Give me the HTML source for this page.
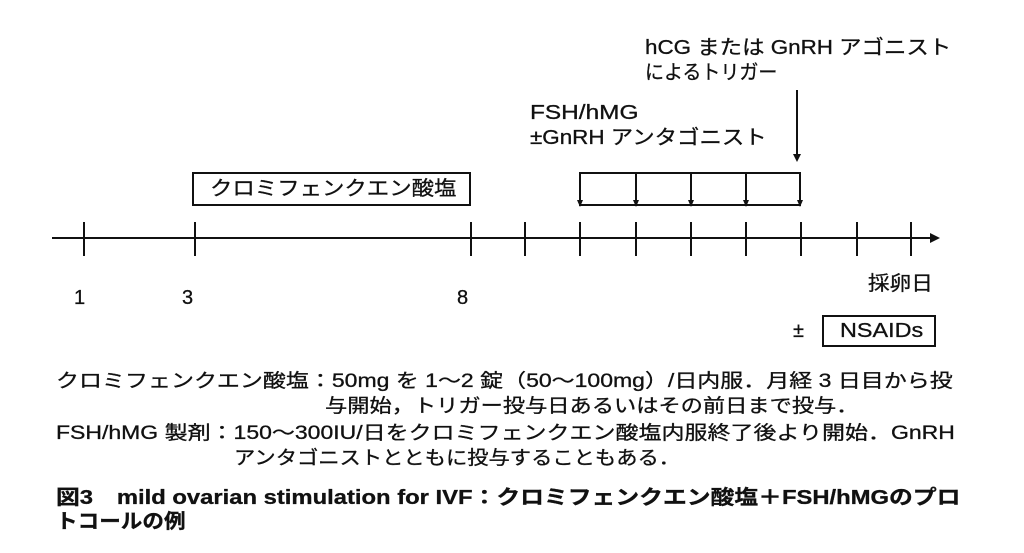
<!DOCTYPE html>
<html><head><meta charset="utf-8"><style>
body{margin:0;width:1024px;height:553px;background:#fff;overflow:hidden;position:relative;font-family:"Liberation Sans","Noto Sans CJK JP",sans-serif;color:#111}
.t{position:absolute;white-space:nowrap;font-size:20px;line-height:22px;transform-origin:0 50%;-webkit-text-stroke:0.3px #111}
.b{font-weight:bold}
</style></head><body>
<svg width="1024" height="553" style="position:absolute;left:0;top:0">
<g stroke="#111" stroke-width="2" fill="none">
<line x1="52" y1="238" x2="930" y2="238"/>
<rect x="193" y="173" width="277" height="32"/>
<rect x="580" y="173" width="220" height="32"/>
<rect x="823" y="316" width="112" height="30"/>
<line x1="797" y1="90" x2="797" y2="156"/>
<line x1="84" y1="222" x2="84" y2="256"/><line x1="195" y1="222" x2="195" y2="256"/>
<line x1="471" y1="222" x2="471" y2="256"/><line x1="525" y1="222" x2="525" y2="256"/>
<line x1="580" y1="222" x2="580" y2="256"/><line x1="636" y1="222" x2="636" y2="256"/>
<line x1="691" y1="222" x2="691" y2="256"/><line x1="746" y1="222" x2="746" y2="256"/>
<line x1="801" y1="222" x2="801" y2="256"/><line x1="857" y1="222" x2="857" y2="256"/>
<line x1="911" y1="222" x2="911" y2="256"/>
<line x1="636" y1="173" x2="636" y2="200"/><line x1="691" y1="173" x2="691" y2="200"/>
<line x1="746" y1="173" x2="746" y2="200"/><line x1="580" y1="180" x2="580" y2="200"/><line x1="800" y1="180" x2="800" y2="200"/>
</g>
<g fill="#111">
<polygon points="930,233 940,238 930,243"/>
<polygon points="793,154 797,162 801,154"/>
<polygon points="577,200 580,207 583,200"/><polygon points="633,200 636,207 639,200"/>
<polygon points="688,200 691,207 694,200"/><polygon points="743,200 746,207 749,200"/>
<polygon points="797,200 800,207 803,200"/>
</g>
</svg>
<div class="t" style="left:645px;top:37px;transform:scaleX(1.12)">hCG または GnRH アゴニスト</div>
<div class="t" style="left:645px;top:62px;transform:scaleX(0.95)">によるトリガー</div>
<div class="t" style="left:530px;top:102px;transform:scaleX(1.22)">FSH/hMG</div>
<div class="t" style="left:530px;top:127px;transform:scaleX(1.12)">±GnRH アンタゴニスト</div>
<div class="t" style="left:210px;top:178px;transform:scaleX(1.12)">クロミフェンクエン酸塩</div>
<div class="t" style="left:74px;top:287px">1</div>
<div class="t" style="left:182px;top:287px">3</div>
<div class="t" style="left:457px;top:287px">8</div>
<div class="t" style="left:868px;top:273px;transform:scaleX(1.08)">採卵日</div>
<div class="t" style="left:793px;top:320px">±</div>
<div class="t" style="left:840px;top:320px;transform:scaleX(1.17)">NSAIDs</div>
<div class="t" style="left:56px;top:371px;font-size:19px;transform:scaleX(1.21)">クロミフェンクエン酸塩：50mg を 1〜2 錠（50〜100mg）/日内服．月経 3 日目から投</div>
<div class="t" style="left:325px;top:396px;font-size:19px;transform:scaleX(1.17)">与開始，トリガー投与日あるいはその前日まで投与．</div>
<div class="t" style="left:56px;top:423px;font-size:19px;transform:scaleX(1.21)">FSH/hMG 製剤：150〜300IU/日をクロミフェンクエン酸塩内服終了後より開始．GnRH</div>
<div class="t" style="left:234px;top:448px;font-size:19px;transform:scaleX(1.12)">アンタゴニストとともに投与することもある．</div>
<div class="t b" style="left:56px;top:487px;font-size:20px;transform:scaleX(1.19)">図3　mild ovarian stimulation for IVF：クロミフェンクエン酸塩＋FSH/hMGのプロ</div>
<div class="t b" style="left:56px;top:511px;font-size:20px;transform:scaleX(1.08)">トコールの例</div>
</body></html>
